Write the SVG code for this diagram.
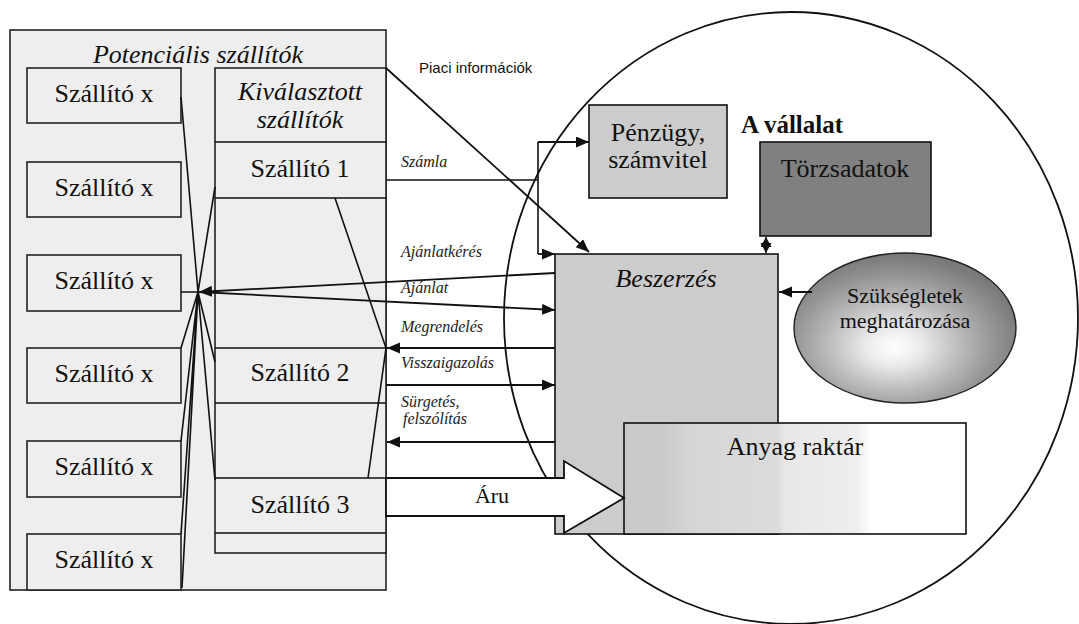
<svg xmlns="http://www.w3.org/2000/svg" width="1079" height="624" viewBox="0 0 1079 624">
<style>
.box{fill:#eeeeee;stroke:#222;stroke-width:1.6}
.t{font-family:"Liberation Serif","Times New Roman",serif;font-size:26px;fill:#111;text-anchor:middle}
.it{font-style:italic}
.lbl{font-family:"Liberation Serif","Times New Roman",serif;font-size:16px;font-style:italic;fill:#222}
.ln{stroke:#111;stroke-width:1.6;fill:none}
.ar{stroke:#111;stroke-width:1.8;fill:none;marker-end:url(#ah)}
</style>
<defs>
<marker id="ah" markerUnits="userSpaceOnUse" markerWidth="14" markerHeight="12" refX="13" refY="5.5" orient="auto">
<path d="M0,0 L13,5.5 L0,11 z" fill="#111"/>
</marker>
<marker id="ahs" markerUnits="userSpaceOnUse" markerWidth="11" markerHeight="12" refX="10" refY="5.5" orient="auto-start-reverse">
<path d="M0,0 L10,5.5 L0,11 z" fill="#111"/>
</marker>
<linearGradient id="store" x1="0" y1="0" x2="1" y2="0">
<stop offset="0" stop-color="#c9c9c9"/>
<stop offset="0.12" stop-color="#cbcbcb"/>
<stop offset="0.2" stop-color="#d6d6d6"/>
<stop offset="0.45" stop-color="#dcdcdc"/>
<stop offset="0.47" stop-color="#e8e8e8"/>
<stop offset="0.68" stop-color="#eeeeee"/>
<stop offset="0.72" stop-color="#ffffff"/>
<stop offset="1" stop-color="#ffffff"/>
</linearGradient>
<radialGradient id="need" cx="0.45" cy="0.6" r="0.58" fx="0.45" fy="0.63">
<stop offset="0" stop-color="#ffffff"/>
<stop offset="0.22" stop-color="#eaeaea"/>
<stop offset="0.5" stop-color="#bdbdbd"/>
<stop offset="0.78" stop-color="#959595"/>
<stop offset="1" stop-color="#7a7a7a"/>
</radialGradient>
</defs>
<rect width="1079" height="624" fill="#ffffff"/>

<g id="vallalat">
<ellipse cx="791" cy="318" rx="287" ry="306" fill="none" stroke="#111" stroke-width="1.8"/>
<text x="741" y="133" style="font-family:'Liberation Serif','Times New Roman',serif;font-size:25px;font-weight:bold;fill:#111">A vállalat</text>
</g>

<g id="potencialis">
<rect class="box" x="10" y="30" width="376" height="560"/>
<text class="t it" x="198" y="63">Potenciális szállítók</text>
</g>

<g id="szallito-x-1"><rect class="box" x="27" y="68" width="154" height="55"/><text class="t" x="104" y="102">Szállító x</text></g>
<g id="szallito-x-2"><rect class="box" x="27" y="162" width="154" height="55"/><text class="t" x="104" y="196">Szállító x</text></g>
<g id="szallito-x-3"><rect class="box" x="27" y="255" width="154" height="56"/><text class="t" x="104" y="289">Szállító x</text></g>
<g id="szallito-x-4"><rect class="box" x="27" y="348" width="154" height="55"/><text class="t" x="104" y="382">Szállító x</text></g>
<g id="szallito-x-5"><rect class="box" x="27" y="441" width="154" height="56"/><text class="t" x="104" y="475">Szállító x</text></g>
<g id="szallito-x-6"><rect class="box" x="27" y="534" width="154" height="56"/><text class="t" x="104" y="568">Szállító x</text></g>

<g id="kivalasztott">
<rect class="box" x="215" y="68" width="171" height="485"/>
<path class="ln" d="M215,142H386M215,198H386M215,348H386M215,403H386M215,478H386M215,533H386"/>
<text class="t it" x="300" y="100">Kiválasztott</text>
<text class="t it" x="300" y="128">szállítók</text>
</g>
<g id="szallito-1"><text class="t" x="300" y="177">Szállító 1</text></g>
<g id="szallito-2"><text class="t" x="300" y="381">Szállító 2</text></g>
<g id="szallito-3"><text class="t" x="300" y="513">Szállító 3</text></g>

<g id="beszerzes">
<rect x="555" y="254" width="223" height="280" fill="#cccccc" stroke="#111" stroke-width="1.6"/>
<text class="t it" x="666" y="287">Beszerzés</text>
</g>

<g id="penzugy">
<rect x="589" y="105" width="138" height="93" fill="#cccccc" stroke="#111" stroke-width="1.6"/>
<text class="t" x="658" y="141">Pénzügy,</text>
<text class="t" x="658" y="168">számvitel</text>
</g>

<g id="torzsadatok">
<rect x="760" y="142" width="171" height="94" fill="#808080" stroke="#111" stroke-width="1.6"/>
<text class="t" x="845" y="177">Törzsadatok</text>
</g>

<g id="szuksegletek">
<ellipse cx="905" cy="328" rx="111" ry="75" fill="url(#need)" stroke="#222" stroke-width="1.4"/>
<text class="t" x="905" y="303" style="font-size:22px">Szükségletek</text>
<text class="t" x="905" y="328" style="font-size:22px">meghatározása</text>
</g>

<g id="anyag-raktar">
<rect x="624" y="423" width="342" height="111" fill="url(#store)" stroke="#111" stroke-width="1.6"/>
<text class="t" x="795" y="455">Anyag raktár</text>
</g>

<g id="connectors">
<path class="ln" d="M198,292L181,97M198,292L215,187M198,292L181,292M198,292L181,348M198,292L215,362M198,292L181,441M198,292L215,480M198,292L181,534M198,292L182,588"/>
<line class="ar" x1="555" y1="273" x2="199" y2="292"/>
<line class="ar" x1="199" y1="292" x2="555" y2="310"/>
<line class="ar" x1="386" y1="68" x2="589" y2="252"/>
<path class="ln" d="M386,180H538M538,142V254"/>
<line class="ar" x1="538" y1="142" x2="589" y2="142"/>
<line class="ar" x1="538" y1="254" x2="555" y2="254"/>
<line class="ar" x1="555" y1="348" x2="387" y2="348"/>
<line class="ar" x1="386" y1="385" x2="555" y2="385"/>
<line class="ar" x1="555" y1="442" x2="387" y2="442"/>
<path class="ln" d="M335,198L386,348L368,478"/>
<line class="ar" x1="812" y1="292" x2="779" y2="292"/>
<line x1="766" y1="237" x2="766" y2="253" stroke="#111" stroke-width="1.6" marker-start="url(#ahs)" marker-end="url(#ahs)"/>
<text x="419" y="73" style="font-family:'Liberation Sans',Arial,sans-serif;font-size:15px;fill:#111">Piaci információk</text>
<text class="lbl" x="401" y="167">Számla</text>
<text class="lbl" x="401" y="257">Ajánlatkérés</text>
<text class="lbl" x="401" y="293">Ajánlat</text>
<text class="lbl" x="401" y="332">Megrendelés</text>
<text class="lbl" x="401" y="368">Visszaigazolás</text>
<text class="lbl" x="401" y="407">Sürgetés,</text>
<text class="lbl" x="403" y="424">felszólítás</text>
</g>

<g id="aru">
<polygon points="386,478 564,478 564,461 624,498 564,533 564,516 386,516" fill="#ffffff" stroke="#111" stroke-width="1.8" stroke-linejoin="miter"/>
<text class="t" x="492" y="503" style="font-size:22px">Áru</text>
</g>
</svg>
